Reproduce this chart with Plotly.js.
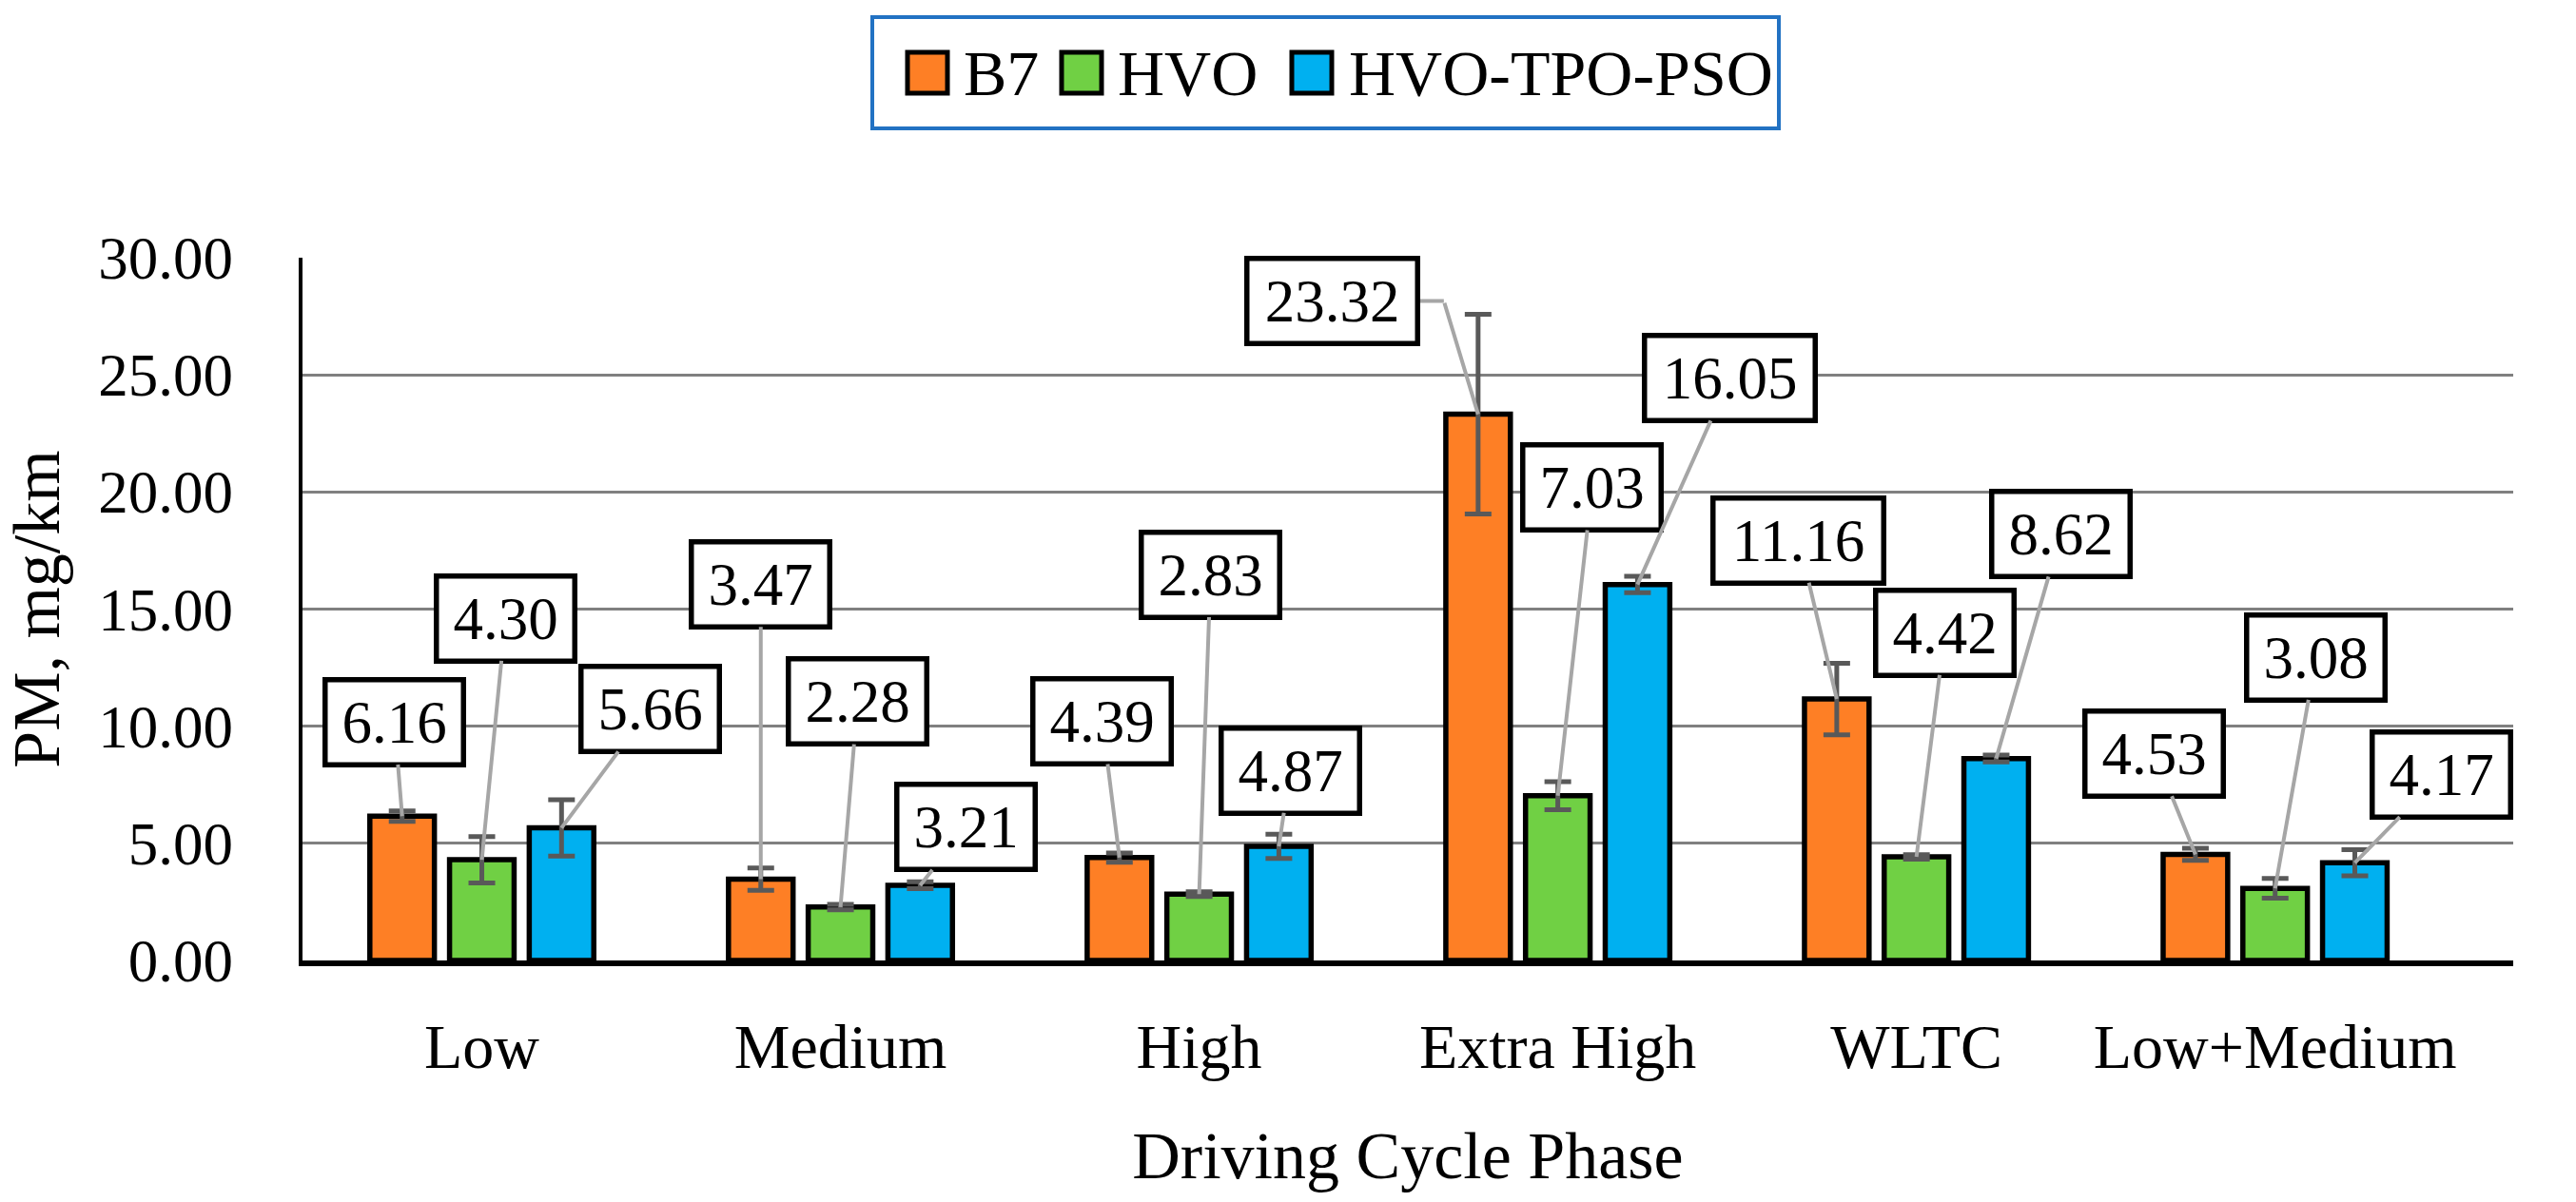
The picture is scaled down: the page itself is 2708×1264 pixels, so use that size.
<!DOCTYPE html>
<html>
<head>
<meta charset="utf-8">
<script src="https://cdn.plot.ly/plotly-3.0.1.min.js"></script>
<style>html,body{margin:0;padding:0;background:#fff;}#chart{width:2708px;height:1264px;}</style>
</head>
<body>
<div id="chart"></div>
<script>
// ---- data ----
const categories = ["Low", "Medium", "High", "Extra High", "WLTC", "Low+Medium"];
const seriesNames = ["B7", "HVO", "HVO-TPO-PSO"];
const b7Values  = [6.16, 3.47, 4.39, 23.32, 11.16, 4.53];
const hvoValues = [4.30, 2.28, 2.83, 7.03, 4.42, 3.08];
const htpValues = [5.66, 3.21, 4.87, 16.05, 8.62, 4.17];
const b7Errors  = [0.22, 0.48, 0.20, 4.26, 1.53, 0.26];
const hvoErrors = [0.99, 0.12, 0.10, 0.60, 0.10, 0.42];
const htpErrors = [1.20, 0.15, 0.52, 0.35, 0.15, 0.56];
const yTickVals = [0, 5, 10, 15, 20, 25, 30];

// ---- styles / layout helpers ----
const colors = ["#fe7f25", "#70d044", "#00b0f0"];
// pixel offsets of each value-label box centre from its bar top
const labelOffsets = [
  [[-8,-99],[0,-310],[-18,-143],[-153,-119],[-40,-167],[-43,-106]],
  [[25,-254],[18,-216],[12,-336],[36,-324],[30,-236],[43,-243]],
  [[93,-125],[48,-61],[12,-80],[97,-217],[68,-236],[91,-93]]
];
// leader lines with an elbow: [series, category, elbow dx, elbow dy] (pixels from bar top)
const elbowLeaders = [[0, 3, -36, -119]];
const FONT = "Liberation Serif";
const bargap = 0.3333;
const W = 2708, H = 1264;
const M = {l: 318, r: 66, t: 271, b: 254};
const PW = W - M.l - M.r, PH = H - M.t - M.b;
const px = v => (v - M.l) / PW;          // pixel x -> paper x
const py = v => (H - M.b - v) / PH;      // pixel y -> paper y

// legend placement (pixels)
const legendBox = {x0: 917, x1: 1870, y0: 18, y1: 135};
const legendSwatchX = [954, 1116, 1358];
const legendTextX = [1011, 1173, 1416];
const legendSwatchY = [55, 98];
const legendTextY = 77;

const values = [b7Values, hvoValues, htpValues];
const errors = [b7Errors, hvoErrors, htpErrors];

const traces = values.map((vals, s) => ({
  type: "bar",
  name: seriesNames[s],
  x: categories,
  y: vals,
  showlegend: false,
  marker: {color: colors[s], line: {color: "#000", width: 5.5}},
  error_y: {type: "data", array: errors[s], visible: true, color: "#595959", thickness: 5, width: 14},
  hoverinfo: "skip"
}));

const leaderStyle = {arrowhead: 0, arrowwidth: 4, arrowcolor: "#a6a6a6", standoff: 0};
const annotations = [];
values.forEach((vals, s) => {
  const off = (s - 1) * (1 - bargap) / 3;
  vals.forEach((v, i) => {
    const txt = v.toFixed(2);
    const box = {
      x: i + off, y: v, xref: "x", yref: "y",
      text: txt,
      bgcolor: "#fff", bordercolor: "#000", borderwidth: 5.5, borderpad: 2,
      width: txt.length === 5 ? 170 : 136, height: 80,
      font: {family: FONT, size: 63, color: "#000"}
    };
    const elbow = elbowLeaders.find(e => e[0] === s && e[1] === i);
    const [dx, dy] = labelOffsets[s][i];
    if (elbow) {
      const halfW = (box.width + 2 * box.borderpad + box.borderwidth) / 2;
      // diagonal segment: elbow -> bar top
      annotations.push(Object.assign({x: i + off, y: v, xref: "x", yref: "y", text: " ",
        font: {size: 1}, showarrow: true, ax: elbow[2], ay: elbow[3]}, leaderStyle));
      // horizontal segment: box edge -> elbow
      annotations.push(Object.assign({x: i + off, y: v, xref: "x", yref: "y", text: " ",
        font: {size: 1}, showarrow: true, xshift: elbow[2], yshift: -elbow[3],
        ax: dx + halfW - elbow[2], ay: 0}, leaderStyle));
      annotations.push(Object.assign(box, {showarrow: false, xshift: dx, yshift: -dy}));
    } else {
      annotations.push(Object.assign(box, {showarrow: true, ax: dx, ay: dy}, leaderStyle));
    }
  });
});

// legend drawn with shapes + text
const shapes = [{
  type: "rect", xref: "paper", yref: "paper",
  x0: px(legendBox.x0), x1: px(legendBox.x1), y0: py(legendBox.y1), y1: py(legendBox.y0),
  line: {color: "#2272c3", width: 4}, fillcolor: "#fff", layer: "above"
}];
seriesNames.forEach((nm, s) => {
  shapes.push({
    type: "rect", xref: "paper", yref: "paper",
    x0: px(legendSwatchX[s]), x1: px(legendSwatchX[s] + 42),
    y0: py(legendSwatchY[1]), y1: py(legendSwatchY[0]),
    line: {color: "#000", width: 5}, fillcolor: colors[s], layer: "above"
  });
  annotations.push({
    xref: "paper", yref: "paper", x: px(legendTextX[s]), y: py(legendTextY),
    xanchor: "left", yanchor: "middle", showarrow: false, text: nm,
    font: {family: FONT, size: 68, color: "#000"}
  });
});

const layout = {
  width: W, height: H,
  margin: M,
  paper_bgcolor: "#fff", plot_bgcolor: "#fff",
  font: {family: FONT, size: 62, color: "#000"},
  barmode: "group", bargap: bargap, bargroupgap: 0.19,
  showlegend: false,
  xaxis: {
    type: "category",
    showline: true, linecolor: "#000", linewidth: 6,
    showgrid: false, zeroline: false, ticks: "",
    ticklabelstandoff: 28,
    tickfont: {family: FONT, size: 66, color: "#000"},
    title: {text: "Driving Cycle Phase", font: {family: FONT, size: 70, color: "#000"}, standoff: 56}
  },
  yaxis: {
    range: [0, 30], tickvals: yTickVals, tickformat: ".2f",
    showline: true, linecolor: "#000", linewidth: 4.5,
    showgrid: true, gridcolor: "#808080", gridwidth: 3,
    zeroline: false,
    ticks: "", ticklabelstandoff: 56,
    tickfont: {family: FONT, size: 63, color: "#000"},
    title: {text: "PM, mg/km", font: {family: FONT, size: 70, color: "#000"}, standoff: 30}
  },
  shapes: shapes,
  annotations: annotations
};

Plotly.newPlot("chart", traces, layout, {displayModeBar: false, staticPlot: true});
</script>
</body>
</html>
